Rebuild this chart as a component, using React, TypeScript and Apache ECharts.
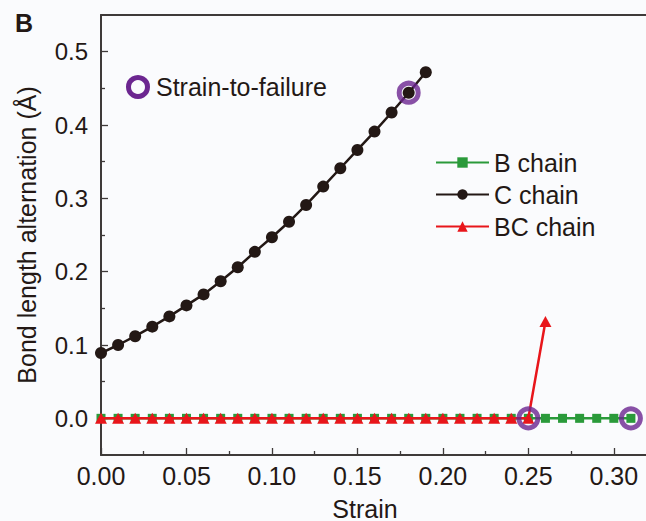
import React, { useEffect, useRef } from "react";
import * as echarts from "echarts";

// ---- data ----
const strainB = [0.0, 0.01, 0.02, 0.03, 0.04, 0.05, 0.06, 0.07, 0.08, 0.09, 0.1, 0.11, 0.12, 0.13, 0.14, 0.15, 0.16, 0.17, 0.18, 0.19, 0.2, 0.21, 0.22, 0.23, 0.24, 0.25, 0.26, 0.27, 0.28, 0.29, 0.3, 0.31];
const bChain = [0, 0, 0, 0, 0, 0, 0, 0, 0, 0, 0, 0, 0, 0, 0, 0, 0, 0, 0, 0, 0, 0, 0, 0, 0, 0, 0, 0, 0, 0, 0, 0];
const strainC = [0.0, 0.01, 0.02, 0.03, 0.04, 0.05, 0.06, 0.07, 0.08, 0.09, 0.1, 0.11, 0.12, 0.13, 0.14, 0.15, 0.16, 0.17, 0.18, 0.19];
const cChain = [0.089, 0.1, 0.112, 0.125, 0.139, 0.154, 0.169, 0.187, 0.206, 0.227, 0.247, 0.268, 0.291, 0.316, 0.341, 0.366, 0.391, 0.417, 0.444, 0.472];
const strainBC = [0.0, 0.01, 0.02, 0.03, 0.04, 0.05, 0.06, 0.07, 0.08, 0.09, 0.1, 0.11, 0.12, 0.13, 0.14, 0.15, 0.16, 0.17, 0.18, 0.19, 0.2, 0.21, 0.22, 0.23, 0.24, 0.25, 0.26];
const bcChain = [0, 0, 0, 0, 0, 0, 0, 0, 0, 0, 0, 0, 0, 0, 0, 0, 0, 0, 0, 0, 0, 0, 0, 0, 0, 0, 0.132];
const failureStrain = [0.18, 0.25, 0.31];
const failureValue = [0.444, 0, 0];

const xMajor = [0, 0.05, 0.1, 0.15, 0.2, 0.25, 0.3];
const xMinor = [0.025, 0.075, 0.125, 0.175, 0.225, 0.275];
const yMajor = [0, 0.1, 0.2, 0.3, 0.4, 0.5];
const yMinor = [0.05, 0.15, 0.25, 0.35, 0.45];

const seriesNames = ["B chain", "C chain", "BC chain"];

const FONT = "'Liberation Sans', Arial, Helvetica, sans-serif";
const TEXT = "#231815";
const AXIS = "#3e3a39";
const GREEN = "#2a9a3a";
const BLACK = "#231815";
const RED = "#e8161b";
const PURPLE = "#6c2690";

const zip = (xs: number[], ys: number[]) => xs.map((x, i) => [x, ys[i]]);

export default function App() {
  const ref = useRef<HTMLDivElement>(null);
  useEffect(() => {
    if (!ref.current) return;
    const chart = echarts.init(ref.current, null, { renderer: "svg" });
    const xRange = { type: "value" as const, min: 0, max: 0.32, splitLine: { show: false } };
    const yRange = { type: "value" as const, min: -0.05, max: 0.55, splitLine: { show: false } };
    const frameLine = { color: AXIS, width: 2 };
    chart.setOption({
      animation: false,
      backgroundColor: "#fafbfd",
      textStyle: { fontFamily: FONT },
      grid: {
        left: 101,
        top: 15,
        right: -2,
        bottom: 66,
        containLabel: false,
        outerBoundsMode: "none",
      },
      xAxis: [
        {
          ...xRange,
          position: "bottom",
          axisLine: { show: true, onZero: false, lineStyle: frameLine },
          axisTick: { show: true, inside: true, length: 7, customValues: xMajor, lineStyle: { color: AXIS, width: 1.3 } },
          axisLabel: {
            show: true,
            customValues: xMajor,
            formatter: (v: number) => v.toFixed(2),
            fontSize: 25,
            color: TEXT,
            fontFamily: FONT,
            margin: 8,
          },
          name: "Strain",
          nameLocation: "middle",
          nameGap: 41,
          nameTextStyle: { fontSize: 25, color: TEXT, fontFamily: FONT, padding: [0, 19, 0, 0] },
        },
        {
          ...xRange,
          position: "bottom",
          axisLine: { show: false, onZero: false },
          axisTick: { show: true, inside: true, length: 4, customValues: xMinor, lineStyle: { color: AXIS, width: 1.3 } },
          axisLabel: { show: false },
        },
        {
          ...xRange,
          position: "top",
          interval: 0.32,
          axisLine: { show: true, onZero: false, lineStyle: frameLine },
          axisTick: { show: false },
          axisLabel: { show: false },
          splitLine: { show: true, showMinLine: true, showMaxLine: true, lineStyle: frameLine },
        },
      ],
      yAxis: [
        {
          ...yRange,
          position: "left",
          axisLine: { show: true, onZero: false, lineStyle: frameLine },
          axisTick: { show: true, inside: true, length: 7, customValues: yMajor, lineStyle: { color: AXIS, width: 1.3 } },
          axisLabel: {
            show: true,
            customValues: yMajor,
            formatter: (v: number) => v.toFixed(1),
            fontSize: 24,
            color: TEXT,
            fontFamily: FONT,
            margin: 13,
          },
          name: "Bond length alternation (Å)",
          nameLocation: "middle",
          nameGap: 62,
          nameTextStyle: { fontSize: 25, color: TEXT, fontFamily: FONT },
        },
        {
          ...yRange,
          position: "left",
          axisLine: { show: false, onZero: false },
          axisTick: { show: true, inside: true, length: 4, customValues: yMinor, lineStyle: { color: AXIS, width: 1.3 } },
          axisLabel: { show: false },
        },
        {
          ...yRange,
          position: "right",
          interval: 0.6,
          axisLine: { show: false, onZero: false },
          axisTick: { show: false },
          axisLabel: { show: false },
          splitLine: { show: true, showMinLine: true, showMaxLine: true, lineStyle: frameLine },
        },
      ],
      legend: {
        orient: "vertical",
        left: 430,
        top: 145,
        itemWidth: 53,
        itemHeight: 13,
        itemGap: 7,
        data: seriesNames,
        textStyle: { fontSize: 25, color: TEXT, fontFamily: FONT },
      },
      series: [
        {
          name: seriesNames[0],
          type: "line",
          data: zip(strainB, bChain),
          symbol: "rect",
          symbolSize: 9,
          color: GREEN,
          lineStyle: { color: GREEN, width: 2.5 },
          itemStyle: { color: GREEN },
          z: 2,
        },
        {
          name: seriesNames[2],
          type: "line",
          data: zip(strainBC, bcChain),
          symbol: "triangle",
          symbolSize: [12, 11],
          color: RED,
          lineStyle: { color: RED, width: 2.5 },
          itemStyle: { color: RED },
          z: 3,
        },
        {
          name: seriesNames[1],
          type: "line",
          data: zip(strainC, cChain),
          symbol: "circle",
          symbolSize: 12,
          color: BLACK,
          lineStyle: { color: BLACK, width: 2.5 },
          itemStyle: { color: BLACK },
          z: 4,
        },
        {
          name: "Strain-to-failure",
          type: "scatter",
          data: zip(failureStrain, failureValue),
          symbol: "circle",
          symbolSize: 19,
          itemStyle: { color: "rgba(0,0,0,0)", borderColor: PURPLE, borderWidth: 5 },
          z: 5,
        },
      ],
      graphic: [
        {
          type: "text",
          left: 15,
          top: 10,
          style: { text: "B", font: `bold 25px ${FONT}`, fill: TEXT },
        },
        {
          type: "circle",
          shape: { cx: 138, cy: 87, r: 9.5 },
          style: { fill: "none", stroke: PURPLE, lineWidth: 5 },
        },
        {
          type: "text",
          x: 156,
          y: 87,
          style: { text: "Strain-to-failure", font: `25px ${FONT}`, fill: TEXT, verticalAlign: "middle", align: "left" },
        },
      ],
    });
    return () => chart.dispose();
  }, []);
  return <div ref={ref} style={{ position: "fixed", left: 0, top: 0, width: 646, height: 521 }} />;
}
